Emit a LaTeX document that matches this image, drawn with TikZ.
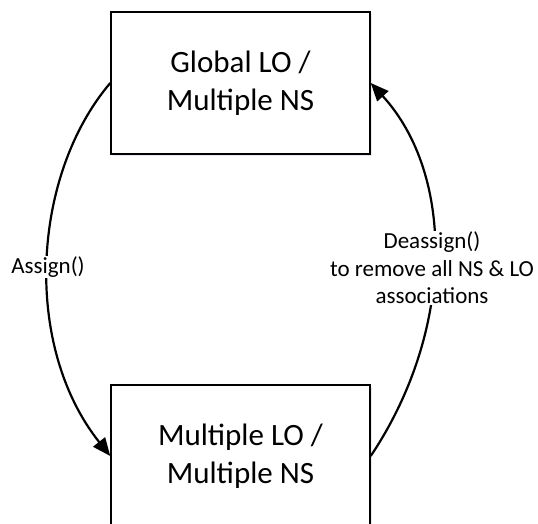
\documentclass[tikz,border=0pt]{standalone}
\usepackage{fontspec}
\setmainfont{Carlito}
\usetikzlibrary{arrows.meta,shadows}
\begin{document}
\begin{tikzpicture}[x=1pt,y=-1pt,
  statebox/.style={draw=black, line width=1.5pt, fill=white, minimum width=259pt, minimum height=142pt,
    inner sep=0pt, align=center, font=\fontsize{31}{38}\selectfont,
    drop shadow={opacity=0.12, shadow xshift=2pt, shadow yshift=-2pt, fill=blue!40!gray}},
  lbl/.style={fill=white, inner sep=1pt, align=center, font=\fontsize{23}{27.5}\selectfont},
  conn/.style={line width=2.2pt, -{Triangle[length=18pt,width=15pt]}}]
\useasboundingbox (0,0) rectangle (538,524);
\clip (0,0) rectangle (538,524);
\node[statebox] (top) at (240.5,83) {Global LO /\\Multiple NS};
\node[statebox] (bot) at (240.5,456) {Multiple LO /\\Multiple NS};
\draw[conn] (top.west) .. controls (32,175) and (22,345) .. (bot.west);
\draw[conn] (bot.east) .. controls (455,330) and (455,175) .. (top.east);
\node[lbl] (la) at (48,267) {Assign()};
\node[lbl] (lb) at (432,268) {Deassign()\\to remove all NS \& LO\\associations};
\end{tikzpicture}
\end{document}
